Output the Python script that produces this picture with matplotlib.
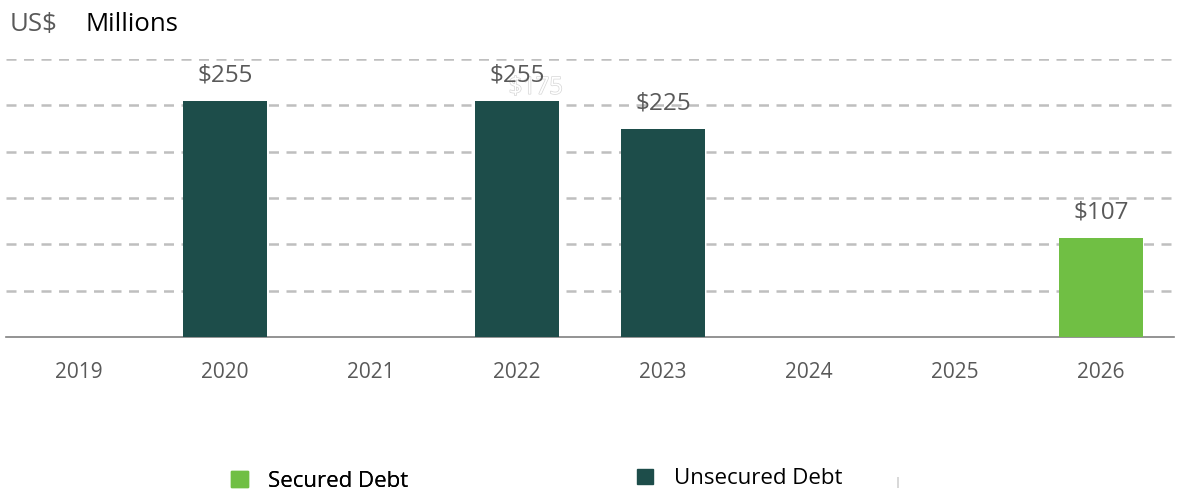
import matplotlib.pyplot as plt
import matplotlib.patheffects as pe
from matplotlib.patches import Patch

years = ["2019", "2020", "2021", "2022", "2023", "2024", "2025", "2026"]
unsecured = [0, 255, 0, 255, 225, 0, 0, 0]
secured = [0, 0, 0, 0, 0, 0, 0, 107]
labels = ["", "$255", "", "$255", "$225", "", "", "$107"]

dark = "#1d4d4a"
light = "#70bf44"
grey = "#595959"

plt.rcParams['font.family'] = ['Open Sans', 'DejaVu Sans']

fig = plt.figure(figsize=(11.81, 4.95), dpi=100)
ax = fig.add_axes([0.005, 0.319, 0.989, 0.5616])

x = range(len(years))
ax.bar(x, unsecured, width=0.575, color=dark, zorder=3)
ax.bar(x, secured, bottom=unsecured, width=0.575, color=light, zorder=3)

# faint leftover label behind 2022
ax.text(3.13, 269, "$175", ha="center", va="center", fontsize=17, color="white",
        path_effects=[pe.withStroke(linewidth=1.0, foreground="#d6d6d6")], zorder=4)

for i in x:
    if labels[i]:
        top = unsecured[i] + secured[i]
        ax.text(i, top + 27, labels[i], ha="center", va="center",
                fontsize=17.5, color=grey, zorder=6)

ax.set_ylim(0, 300)
ax.set_xlim(-0.5, len(years) - 0.5)
ax.set_yticks(range(50, 301, 50))
ax.yaxis.grid(True, linestyle=(0, (4, 3)), color="#bfbfbf", linewidth=1.8, zorder=0)
ax.tick_params(axis="y", left=False, labelleft=False)
ax.set_xticks(list(x))
ax.set_xticklabels(years, fontsize=15, color=grey)
ax.tick_params(axis="x", length=0, pad=18)
for s in ["top", "right", "left"]:
    ax.spines[s].set_visible(False)
ax.spines["bottom"].set_color("#808080")
ax.spines["bottom"].set_linewidth(1.2)

fig.text(0.008, 0.951, "US$", fontsize=18.5, color=grey, va="center")
fig.text(0.072, 0.951, "Millions", fontsize=18.5, color="black", va="center")

leg1 = fig.legend(handles=[Patch(color=light, label="Secured Debt")],
                  loc="center left", bbox_to_anchor=(0.1787, 0.028), frameon=False,
                  fontsize=16, handlelength=0.78, handleheight=0.78, handletextpad=0.9)
fig.add_artist(leg1)
fig.legend(handles=[Patch(color=dark, label="Unsecured Debt")],
           loc="center left", bbox_to_anchor=(0.5224, 0.033), frameon=False,
           fontsize=16, handlelength=0.7, handleheight=0.7, handletextpad=0.95)
fig.text(0.7595, 0.025, "|", fontsize=8, color="#9a9a9a", ha="center", va="center")

fig.savefig("out.png", dpi=100)
